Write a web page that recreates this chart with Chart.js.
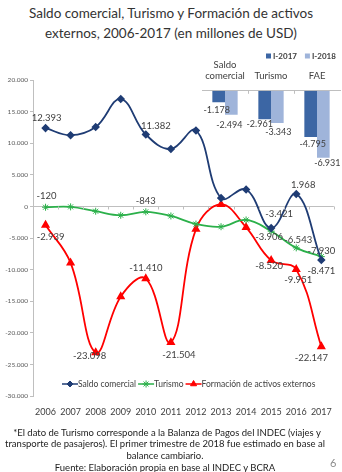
<!DOCTYPE html>
<html>
<head>
<meta charset="utf-8">
<script src="https://cdn.jsdelivr.net/npm/chart.js@4.4.0/dist/chart.umd.min.js"></script>
<style>
  html, body { margin: 0; padding: 0; background: #fff; }
  body { width: 342px; height: 472px; overflow: hidden; position: relative; font-family: Lato, "Open Sans", sans-serif; }
  .title { position: absolute; left: 0; top: 4px; width: 342px; text-align: center; font-size: 13.5px; line-height: 19.5px; color: #333; }
  #main { position: absolute; left: 0; top: 62px; }
  #inset { position: absolute; left: 192px; top: 44px; }
  .note { position: absolute; left: 0; width: 330px; text-align: center; font-size: 9.5px; color: #222; white-space: nowrap; }
  .page { position: absolute; left: 330px; top: 456px; font-size: 11px; color: #8c8c8c; }
</style>
</head>
<body>
<div class="title">Saldo comercial, Turismo y Formación de activos<br>externos, 2006-2017 (en millones de USD)</div>
<canvas id="main" width="342" height="375"></canvas>
<canvas id="inset" width="150" height="130"></canvas>
<div class="note" style="top:427px; padding-left:2px">*El dato de Turismo corresponde a la Balanza de Pagos del INDEC (viajes y</div>
<div class="note" style="top:438px">transporte de pasajeros). El primer trimestre de 2018 fue estimado en base al</div>
<div class="note" style="top:450px">balance cambiario.</div>
<div class="note" style="top:462px">Fuente: Elaboración propia en base al INDEC y BCRA</div>
<div class="page">6</div>
<script>
// datos (millones de USD)
const years = ['2006', '2007', '2008', '2009', '2010', '2011', '2012', '2013', '2014', '2015', '2016', '2017'];
const saldo = [12393, 11270, 12560, 16990, 11382, 9100, 12020, 1330, 2680, -3421, 1968, -8471];
const turismo = [-120, -60, -750, -1390, -843, -1500, -2780, -3200, -2130, -3906, -6543, -7930];
const fae = [-2939, -8920, -23098, -14260, -11410, -21504, -3580, 320, -3310, -8520, -9951, -22147];

// recuadro: primer trimestre
const insetCats = [['Saldo', 'comercial'], 'Turismo', 'FAE'];
const i2017 = [-1178, -2961, -4795];
const i2018 = [-2494, -3343, -6931];

function fmt(v) {
    const s = Math.abs(Math.round(v)).toString().replace(/\B(?=(\d{3})+(?!\d))/g, '.');
    return (v < 0 ? '-' : '') + s;
}

const FONT = 'Lato, "Open Sans", sans-serif';
const TXT = '#404040';

// posición de las etiquetas de datos (índice: [dx, dy])
const labelPos = [
    { 0: [1, -10], 4: [10, -9], 9: [8, -14], 10: [7, -9], 11: [0, 11] },
    { 0: [1, -11], 4: [0, -11], 9: [-2, 6], 10: [2, -8], 11: [0, -6] },
    { 0: [5, 12], 2: [-6, 3], 4: [0, -11], 5: [8, 12], 9: [-2, 6], 10: [2, 11], 11: [-10, 11] }
];
// etiquetas de las barras: [dx, dy] por serie y categoría
const barLabelPos = [
    [[-2, 8], [-5, 5], [2, 7]],
    [[-2, 10], [1, 9], [4, 5]]
];

const mainLabels = {
    id: 'mainLabels',
    afterDatasetsDraw(chart) {
        const ctx = chart.ctx;
        ctx.save();
        ctx.font = '9.5px ' + FONT;
        ctx.fillStyle = TXT;
        ctx.textAlign = 'center';
        ctx.textBaseline = 'middle';
        chart.data.datasets.forEach((ds, di) => {
            const meta = chart.getDatasetMeta(di);
            Object.keys(labelPos[di]).forEach(k => {
                const i = +k;
                const p = meta.data[i];
                const [dx, dy] = labelPos[di][k];
                ctx.fillText(fmt(ds.data[i]), p.x + dx, p.y + dy);
            });
        });
        // marcas del eje en el cero
        const x = chart.scales.x, y0 = chart.scales.y.getPixelForValue(0);
        ctx.strokeStyle = '#bfbfbf';
        ctx.lineWidth = 1;
        for (let i = 0; i <= years.length; i++) {
            const px = Math.round(x.left + i * (x.width / years.length)) + 0.5;
            ctx.beginPath();
            ctx.moveTo(px, y0);
            ctx.lineTo(px, y0 + 3);
            ctx.stroke();
        }
        ctx.restore();
    },
    afterDraw(chart) {
        // leyenda dentro del área del gráfico
        const ctx = chart.ctx;
        ctx.save();
        ctx.font = '8.5px ' + FONT;
        ctx.textBaseline = 'middle';
        const seg = 16, gap = 2;
        let x = 62;
        const y = 384 - chart.canvas.offsetTop;
        chart.data.datasets.forEach(ds => {
            ctx.strokeStyle = ds.borderColor;
            ctx.fillStyle = ds.borderColor;
            ctx.lineWidth = 1.5;
            ctx.beginPath();
            ctx.moveTo(x, y);
            ctx.lineTo(x + seg, y);
            ctx.stroke();
            ctx.lineWidth = 1;
            Chart.helpers.drawPoint(ctx, { pointStyle: ds.pointStyle, radius: ds.pointRadius, rotation: 0, borderWidth: 1 }, x + seg / 2, y);
            ctx.fillStyle = TXT;
            ctx.fillText(ds.label, x + seg, y);
            x += seg + ctx.measureText(ds.label).width + gap;
        });
        ctx.restore();
    }
};

new Chart(document.getElementById('main'), {
    type: 'line',
    data: {
        labels: years,
        datasets: [
            {
                label: 'Saldo comercial', data: saldo,
                borderColor: '#1f3c74', backgroundColor: '#1f3c74',
                pointStyle: 'rectRot', pointRadius: 3, borderWidth: 1.8, tension: 0.4
            },
            {
                label: 'Turismo', data: turismo,
                borderColor: '#2bb04a', backgroundColor: '#2bb04a',
                pointStyle: 'star', pointRadius: 3.5, pointBorderWidth: 1, borderWidth: 1.8, tension: 0.4
            },
            {
                label: 'Formación de activos externos', data: fae,
                borderColor: '#ff0000', backgroundColor: '#ff0000',
                pointStyle: 'triangle', pointRadius: 3.5, borderWidth: 1.8, tension: 0.4
            }
        ]
    },
    options: {
        responsive: false,
        animation: false,
        layout: { padding: { top: 18, right: 2, bottom: 10, left: 0 } },
        plugins: { legend: { display: false }, tooltip: { enabled: false } },
        scales: {
            x: {
                offset: true,
                grid: { display: false, drawTicks: false },
                border: { display: false },
                ticks: { padding: 10, color: TXT, font: { family: FONT, size: 9 }, maxRotation: 0, autoSkip: false }
            },
            y: {
                min: -30000, max: 20000,
                afterFit: s => { s.width = 33; },
                ticks: { stepSize: 5000, callback: v => fmt(v), color: '#595959', font: { family: FONT, size: 6.5 }, padding: 2 },
                grid: { color: c => (c.tick && c.tick.value === 0 ? '#bfbfbf' : 'rgba(0,0,0,0)'), tickColor: '#bfbfbf', tickLength: 3 },
                border: { color: '#bfbfbf' }
            }
        }
    },
    plugins: [mainLabels]
});

const barLabels = {
    id: 'barLabels',
    afterDatasetsDraw(chart) {
        const ctx = chart.ctx;
        ctx.save();
        ctx.font = '9px ' + FONT;
        ctx.fillStyle = TXT;
        ctx.textAlign = 'center';
        ctx.textBaseline = 'middle';
        chart.data.datasets.forEach((ds, di) => {
            chart.getDatasetMeta(di).data.forEach((b, i) => {
                const [dx, dy] = barLabelPos[di][i];
                ctx.fillText(fmt(ds.data[i]), b.x + dx, b.y + dy);
            });
        });
        const x = chart.scales.x, top = chart.chartArea.top;
        ctx.strokeStyle = '#bfbfbf';
        ctx.lineWidth = 1;
        for (let i = 1; i < insetCats.length; i++) {
            const px = Math.round(x.left + i * (x.width / insetCats.length)) + 0.5;
            ctx.beginPath();
            ctx.moveTo(px, top);
            ctx.lineTo(px, top + 3);
            ctx.stroke();
        }
        // leyenda del recuadro
        ctx.font = 'bold 8px ' + FONT;
        ctx.textAlign = 'left';
        let lx = 266 - chart.canvas.offsetLeft;
        const ly = 56 - chart.canvas.offsetTop;
        chart.data.datasets.forEach(ds => {
            ctx.fillStyle = ds.backgroundColor;
            ctx.fillRect(lx, ly - 2.5, 5, 5);
            ctx.fillStyle = TXT;
            ctx.fillText(ds.label, lx + 7, ly);
            lx += 7 + ctx.measureText(ds.label).width + 8;
        });
        ctx.restore();
    }
};

new Chart(document.getElementById('inset'), {
    type: 'bar',
    data: {
        labels: insetCats,
        datasets: [
            { label: 'I-2017', data: i2017, backgroundColor: '#3c66a4', categoryPercentage: 0.55, barPercentage: 1 },
            { label: 'I-2018', data: i2018, backgroundColor: '#9fb4da', categoryPercentage: 0.55, barPercentage: 1 }
        ]
    },
    options: {
        responsive: false,
        animation: false,
        layout: { padding: { top: 6, right: 2, bottom: 6, left: 10 } },
        plugins: {
            tooltip: { enabled: false },
            legend: { display: false }
        },
        scales: {
            x: {
                position: 'top',
                grid: { display: false, drawTicks: false },
                border: { color: '#bfbfbf' },
                ticks: { padding: 9, color: TXT, font: { family: FONT, size: 9.5 }, maxRotation: 0, autoSkip: false }
            },
            y: { display: false, min: -8000, max: 0 }
        }
    },
    plugins: [barLabels]
});
</script>
</body>
</html>
